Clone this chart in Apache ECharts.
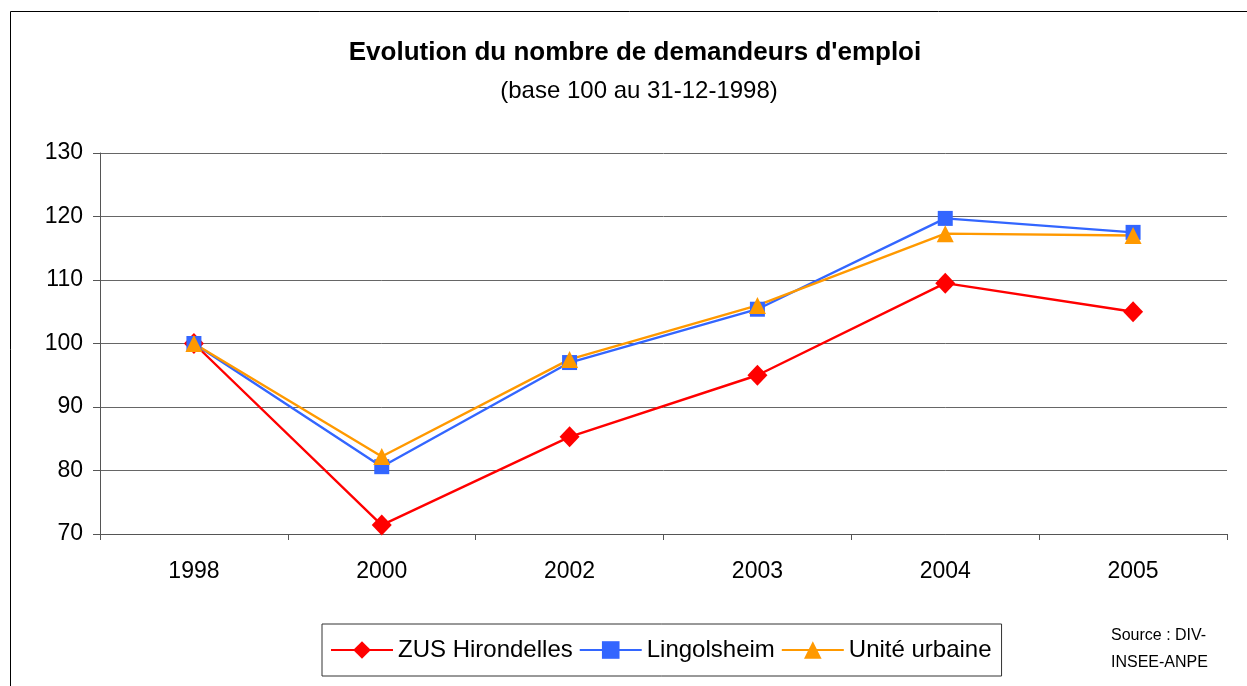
<!DOCTYPE html>
<html>
<head>
<meta charset="utf-8">
<script src="https://cdn.jsdelivr.net/npm/echarts@6/dist/echarts.min.js"></script>
<style>
  html, body { margin: 0; padding: 0; background: #fff; }
  #chart { width: 1247px; height: 686px; }
</style>
</head>
<body>
<div id="chart"></div>
<script>
// Job seekers index (base 100 at 31-12-1998)
const years = ['1998', '2000', '2002', '2003', '2004', '2005'];
const zusHirondelles = [100, 71.4, 85.3, 95.0, 109.5, 105.0];
const lingolsheim = [100, 80.6, 97.0, 105.4, 119.7, 117.5];
const uniteUrbaine = [100, 82.2, 97.5, 106.0, 117.3, 117.0];
const yTicks = { min: 70, max: 130, interval: 10 };

const FONT = '"Liberation Sans", Arial, sans-serif';

const chart = echarts.init(document.getElementById('chart'), null, { renderer: 'canvas' });

function lineSeries(name, data, color, symbol, size) {
  return {
    name: name,
    type: 'line',
    data: data,
    symbol: symbol,
    symbolSize: size,
    showAllSymbol: true,
    lineStyle: { color: color, width: 2.4 },
    itemStyle: { color: color },
    z: 3
  };
}

chart.setOption({
  animation: false,
  backgroundColor: '#ffffff',
  textStyle: { fontFamily: FONT },
  title: [
    {
      text: "Evolution du nombre de demandeurs d'emploi",
      left: 630, top: 35, textAlign: 'center',
      textStyle: { fontFamily: FONT, fontSize: 26, fontWeight: 'bold', color: '#000' }
    },
    {
      text: '(base 100 au 31-12-1998)',
      left: 634, top: 74, textAlign: 'center',
      textStyle: { fontFamily: FONT, fontSize: 24, fontWeight: 'normal', color: '#000' }
    }
  ],
  grid: { left: 100, right: 20, top: 153, bottom: 152, containLabel: false },
  xAxis: {
    type: 'category',
    data: years,
    boundaryGap: true,
    axisLine: { lineStyle: { color: '#555', width: 1 } },
    axisTick: { show: true, length: 6, alignWithLabel: false, lineStyle: { color: '#555' } },
    axisLabel: { fontFamily: FONT, fontSize: 23, color: '#000', margin: 26 },
    splitLine: { show: false }
  },
  yAxis: {
    type: 'value',
    min: yTicks.min, max: yTicks.max, interval: yTicks.interval,
    axisLine: { show: true, lineStyle: { color: '#555', width: 1 } },
    axisTick: { show: true, length: 7, lineStyle: { color: '#555' } },
    axisLabel: { fontFamily: FONT, fontSize: 23, color: '#000', margin: 17 },
    splitLine: { show: true, lineStyle: { color: '#666', width: 1 } }
  },
  legend: {
    left: 322, top: 624,
    padding: [14, 10, 14, 8],
    itemGap: 6,
    itemWidth: 62,
    itemHeight: 22,
    borderColor: '#333',
    borderWidth: 1,
    textStyle: { fontFamily: FONT, fontSize: 24, color: '#000' },
    data: ['ZUS Hirondelles', 'Lingolsheim', 'Unité urbaine']
  },
  graphic: [
    {
      type: 'polyline',
      shape: { points: [[10.5, 700], [10.5, 11.5], [1260, 11.5]] },
      style: { stroke: '#000', lineWidth: 1, fill: null },
      silent: true
    },
    {
      type: 'text',
      left: 1111, top: 622,
      style: {
        text: 'Source : DIV-\nINSEE-ANPE',
        font: '16px ' + FONT,
        fill: '#000',
        lineHeight: 27
      }
    }
  ],
  series: [
    lineSeries('ZUS Hirondelles', zusHirondelles, '#ff0000', 'diamond', [20, 21]),
    lineSeries('Lingolsheim', lingolsheim, '#3366ff', 'rect', 15),
    lineSeries('Unité urbaine', uniteUrbaine, '#ff9900', 'triangle', 17)
  ]
});
</script>
</body>
</html>
